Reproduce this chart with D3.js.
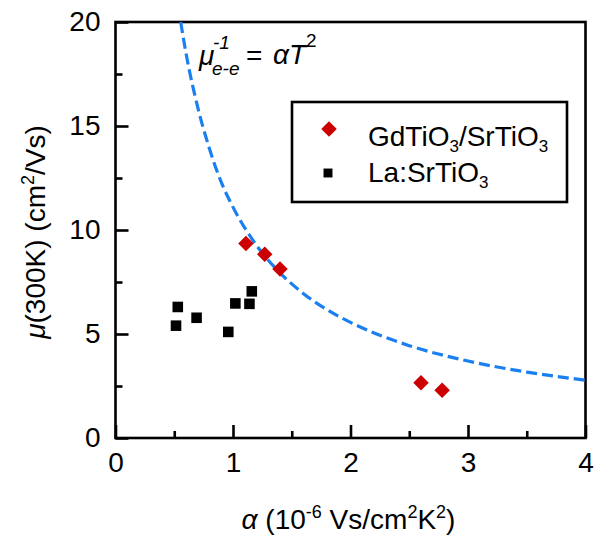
<!DOCTYPE html>
<html>
<head>
<meta charset="utf-8">
<script src="https://cdn.jsdelivr.net/npm/d3@7"></script>
<style>
  body { margin: 0; background: #fff; }
  text { font-family: "Liberation Sans", Arial, sans-serif; fill: #000; }
</style>
</head>
<body>
<svg width="602" height="539"></svg>
<script>
// GdTiO3/SrTiO3 points
const gdAlpha = [1.11, 1.27, 1.40, 2.60, 2.78];
const gdMu = [9.35, 8.83, 8.13, 2.66, 2.30];
// La:SrTiO3 points
const laAlpha = [0.53, 0.515, 0.69, 0.96, 1.02, 1.14, 1.16];
const laMu = [6.30, 5.40, 5.78, 5.10, 6.47, 6.45, 7.05];
// dashed curve
const fitAlpha = [0.555, 0.6, 0.7, 0.8, 0.9, 1.0, 1.2, 1.4, 1.6, 1.8, 2.0, 2.5, 3.0, 3.5, 4.0];
const fitMu = [20.0, 18.5, 15.9, 13.9, 12.3, 11.1, 9.26, 7.94, 6.94, 6.17, 5.56, 4.44, 3.70, 3.17, 2.78];

const xTicks = [0, 1, 2, 3, 4];
const xMinor = [0.5, 1.5, 2.5, 3.5];
const yTicks = [0, 5, 10, 15, 20];
const yMinor = [2.5, 7.5, 12.5, 17.5];

const svg = d3.select("svg");
const margin = { left: 115.5, right: 585.5, top: 22, bottom: 438 };

const x = d3.scaleLinear().domain([0, 4]).range([margin.left, margin.right]);
const y = d3.scaleLinear().domain([0, 20]).range([margin.bottom, margin.top]);

const fontSize = 28;

// frame
svg.append("rect")
  .attr("x", margin.left).attr("y", margin.top)
  .attr("width", margin.right - margin.left).attr("height", margin.bottom - margin.top)
  .attr("fill", "none").attr("stroke", "#000").attr("stroke-width", 2.6);

// minor ticks
svg.append("g")
  .attr("transform", `translate(0,${margin.bottom})`)
  .call(d3.axisBottom(x).tickValues(xMinor).tickSize(-7).tickSizeOuter(0).tickFormat(""))
  .call(g => g.select(".domain").remove())
  .call(g => g.selectAll("line").attr("stroke-width", 2.6));
svg.append("g")
  .attr("transform", `translate(${margin.left},0)`)
  .call(d3.axisLeft(y).tickValues(yMinor).tickSize(-7).tickSizeOuter(0).tickFormat(""))
  .call(g => g.select(".domain").remove())
  .call(g => g.selectAll("line").attr("stroke-width", 2.6));

// major ticks + labels
svg.append("g")
  .attr("transform", `translate(0,${margin.bottom})`)
  .call(d3.axisBottom(x).tickValues(xTicks).tickSize(-13).tickSizeOuter(0).tickPadding(14).tickFormat(d3.format("d")))
  .call(g => g.select(".domain").remove())
  .call(g => g.selectAll("line").attr("stroke-width", 2.6))
  .call(g => g.selectAll("text").style("font-size", fontSize + "px")
    .style("font-family", "Liberation Sans, Arial, sans-serif").attr("fill", "#000"));
svg.append("g")
  .attr("transform", `translate(${margin.left},0)`)
  .call(d3.axisLeft(y).tickValues(yTicks).tickSize(-13).tickSizeOuter(0).tickPadding(15).tickFormat(d3.format("d")))
  .call(g => g.select(".domain").remove())
  .call(g => g.selectAll("line").attr("stroke-width", 2.6))
  .call(g => g.selectAll("text").style("font-size", fontSize + "px")
    .style("font-family", "Liberation Sans, Arial, sans-serif").attr("fill", "#000"));

// axis titles
const xl = svg.append("text")
  .attr("x", (margin.left + margin.right) / 2 - 2).attr("y", 529)
  .attr("text-anchor", "middle")
  .style("font-size", fontSize + "px");
xl.append("tspan").style("font-style", "italic").text("α");
xl.append("tspan").text(" (10");
xl.append("tspan").attr("dy", -11).style("font-size", "18px").text("-6");
xl.append("tspan").attr("dy", 11).text(" Vs/cm");
xl.append("tspan").attr("dy", -11).style("font-size", "18px").text("2");
xl.append("tspan").attr("dy", 11).text("K");
xl.append("tspan").attr("dy", -11).style("font-size", "18px").text("2");
xl.append("tspan").attr("dy", 11).text(")");

const yl = svg.append("text")
  .attr("transform", `translate(45,${(margin.top + margin.bottom) / 2 + 2}) rotate(-90)`)
  .attr("text-anchor", "middle")
  .style("font-size", fontSize + "px");
yl.append("tspan").style("font-style", "italic").text("μ");
yl.append("tspan").text("(300K) (cm");
yl.append("tspan").attr("dy", -11).style("font-size", "18px").text("2");
yl.append("tspan").attr("dy", 11).text("/Vs)");

// fit curve
const fit = fitAlpha.map((a, i) => [a, fitMu[i]]);
svg.append("path")
  .datum(fit)
  .attr("fill", "none")
  .attr("stroke", "#1a7ff0")
  .attr("stroke-width", 3.2)
  .attr("stroke-dasharray", "11,5")
  .attr("d", d3.line().x(d => x(d[0])).y(d => y(d[1])).curve(d3.curveMonotoneX));

// markers
const diamond = d3.symbol().type(d3.symbolSquare).size(120);
const square = d3.symbol().type(d3.symbolSquare).size(112);

svg.append("g").selectAll("path")
  .data(laAlpha.map((a, i) => [a, laMu[i]]))
  .join("path")
  .attr("d", square)
  .attr("transform", d => `translate(${x(d[0])},${y(d[1])})`)
  .attr("fill", "#000");

svg.append("g").selectAll("path")
  .data(gdAlpha.map((a, i) => [a, gdMu[i]]))
  .join("path")
  .attr("d", diamond)
  .attr("transform", d => `translate(${x(d[0])},${y(d[1])}) rotate(45)`)
  .attr("fill", "#cc0000");

// annotation
const ann = svg.append("g").style("font-style", "italic");
ann.append("text").attr("x", 199).attr("y", 65).style("font-size", "28px").text("μ");
ann.append("text").attr("x", 213).attr("y", 49).style("font-size", "19px").text("-1");
ann.append("text").attr("x", 212).attr("y", 75).style("font-size", "19px").text("e-e");
svg.append("text").attr("x", 246).attr("y", 65).style("font-size", "28px").text("=");
const rhs = svg.append("text").attr("x", 273).attr("y", 64).style("font-size", "28px").style("font-style", "italic");
rhs.append("tspan").text("αT");
rhs.append("tspan").attr("dy", -17).style("font-size", "19px").style("font-style", "normal").text("2");

// legend
svg.append("rect")
  .attr("x", 292).attr("y", 102).attr("width", 275).attr("height", 100)
  .attr("fill", "#fff").attr("stroke", "#000").attr("stroke-width", 2.6);
svg.append("path").attr("d", diamond)
  .attr("transform", "translate(329,129) rotate(45)").attr("fill", "#cc0000");
svg.append("path").attr("d", d3.symbol().type(d3.symbolSquare).size(80))
  .attr("transform", "translate(328,173)").attr("fill", "#000");

const l1 = svg.append("text").attr("x", 368).attr("y", 146).style("font-size", "28px");
l1.append("tspan").text("GdTiO");
l1.append("tspan").attr("dy", 6).style("font-size", "17px").text("3");
l1.append("tspan").attr("dy", -6).text("/SrTiO");
l1.append("tspan").attr("dy", 6).style("font-size", "17px").text("3");
const l2 = svg.append("text").attr("x", 368).attr("y", 182).style("font-size", "28px");
l2.append("tspan").text("La:SrTiO");
l2.append("tspan").attr("dy", 6).style("font-size", "17px").text("3");
</script>
</body>
</html>
